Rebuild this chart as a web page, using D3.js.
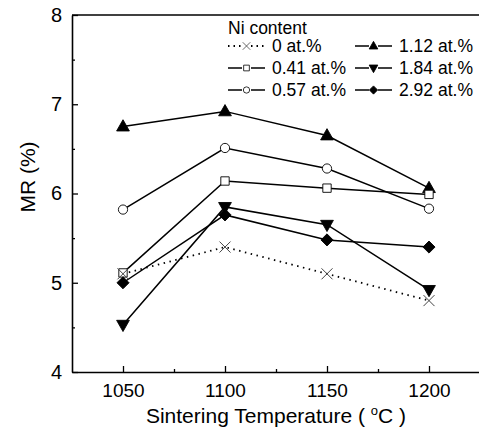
<!DOCTYPE html>
<html>
<head>
<meta charset="utf-8">
<script src="https://cdn.jsdelivr.net/npm/d3@7"></script>
<style>
  body { margin: 0; background: #fff; }
  text { font-family: "Liberation Sans", Arial, sans-serif; fill: #000; }
</style>
</head>
<body>
<div id="chart"></div>
<script>
// data
var temps = [1050, 1100, 1150, 1200];
var xTicks = [1050, 1100, 1150, 1200];
var yTicks = [4, 5, 6, 7, 8];
var seriesNames = ["0 at.%", "0.41 at.%", "0.57 at.%", "1.12 at.%", "1.84 at.%", "2.92 at.%"];
var mr0   = [5.10, 5.40, 5.10, 4.80];
var mr041 = [5.11, 6.14, 6.06, 5.99];
var mr057 = [5.82, 6.51, 6.28, 5.83];
var mr112 = [6.75, 6.92, 6.65, 6.06];
var mr184 = [4.53, 5.85, 5.65, 4.92];
var mr292 = [5.00, 5.76, 5.48, 5.40];

var W = 479, H = 438;
var margin = {top: 15, right: -1, bottom: 66, left: 72};
var width = W - margin.left - margin.right,
    height = H - margin.top - margin.bottom;

var svg = d3.select("#chart").append("svg")
    .attr("width", W).attr("height", H)
  .append("g")
    .attr("transform", "translate(" + margin.left + "," + margin.top + ")");

var x = d3.scaleLinear().domain([1025, 1225]).range([0, width]);
var y = d3.scaleLinear().domain([4, 8]).range([height, 0]);

// marker shapes
function shape(kind, s) {
  var p = d3.path();
  if (kind == "up") {
    p.moveTo(0, -s * 0.62); p.lineTo(s * 0.58, s * 0.4); p.lineTo(-s * 0.58, s * 0.4); p.closePath();
  } else if (kind == "down") {
    p.moveTo(0, s * 0.62); p.lineTo(s * 0.58, -s * 0.4); p.lineTo(-s * 0.58, -s * 0.4); p.closePath();
  } else if (kind == "diamond") {
    p.moveTo(0, -s * 0.55); p.lineTo(s * 0.55, 0); p.lineTo(0, s * 0.55); p.lineTo(-s * 0.55, 0); p.closePath();
  } else if (kind == "square") {
    p.rect(-s * 0.38, -s * 0.38, s * 0.76, s * 0.76);
  } else if (kind == "circle") {
    p.arc(0, 0, s * 0.42, 0, 2 * Math.PI); p.closePath();
  } else if (kind == "cross") {
    var h = s * 0.5;
    p.moveTo(-h, -h); p.lineTo(h, h); p.moveTo(h, -h); p.lineTo(-h, h);
  }
  return p.toString();
}

var series = [
  {name: seriesNames[3], vals: mr112, kind: "up",      fill: "#000", stroke: "#000", dash: null},
  {name: seriesNames[1], vals: mr041, kind: "square",  fill: "#fff", stroke: "#000", dash: null},
  {name: seriesNames[2], vals: mr057, kind: "circle",  fill: "#fff", stroke: "#000", dash: null},
  {name: seriesNames[4], vals: mr184, kind: "down",    fill: "#000", stroke: "#000", dash: null},
  {name: seriesNames[5], vals: mr292, kind: "diamond", fill: "#000", stroke: "#000", dash: null},
  {name: seriesNames[0], vals: mr0,   kind: "cross",   fill: "none", stroke: "#444", dash: "1.5,4.5"}
];

var line = d3.line()
  .x(function(d, i) { return x(temps[i]); })
  .y(function(d) { return y(d); });

// lines
series.forEach(function(s) {
  svg.append("path")
    .attr("d", line(s.vals))
    .attr("fill", "none")
    .attr("stroke", "#000")
    .attr("stroke-width", s.dash ? 1.8 : 1.5)
    .attr("stroke-dasharray", s.dash);
});

// markers
series.forEach(function(s) {
  svg.selectAll(null).data(s.vals).enter().append("path")
    .attr("transform", function(d, i) { return "translate(" + x(temps[i]) + "," + y(d) + ")"; })
    .attr("d", shape(s.kind, 11))
    .attr("fill", s.fill)
    .attr("stroke", s.stroke)
    .attr("stroke-width", s.kind == "cross" ? 1 : 0.9);
});

// axes with inward ticks
var axisColor = "#000";
svg.append("g")
    .attr("transform", "translate(0," + height + ")")
    .call(d3.axisBottom(x).tickValues(xTicks).tickFormat(d3.format("d"))
      .tickSizeInner(-6).tickSizeOuter(0).tickPadding(12))
    .call(function(g) {
      g.select(".domain").attr("stroke-width", 1.6);
      g.selectAll(".tick line").attr("stroke-width", 1.3);
      g.selectAll("text").attr("font-size", 19).attr("font-family", "Liberation Sans, Arial, sans-serif");
    });
svg.append("g")
    .attr("transform", "translate(0," + height + ")")
    .call(d3.axisBottom(x).tickValues([1075, 1125, 1175]).tickSizeInner(-3).tickSizeOuter(0).tickFormat(""))
    .call(function(g) { g.select(".domain").remove(); g.selectAll(".tick line").attr("stroke-width", 1.3); });

svg.append("g")
    .call(d3.axisLeft(y).tickValues(yTicks).tickFormat(d3.format("d"))
      .tickSizeInner(-6).tickSizeOuter(0).tickPadding(10))
    .call(function(g) {
      g.select(".domain").attr("stroke-width", 1.6);
      g.selectAll(".tick line").attr("stroke-width", 1.3);
      g.selectAll("text").attr("font-size", 20).attr("font-family", "Liberation Sans, Arial, sans-serif");
    });
svg.append("g")
    .call(d3.axisLeft(y).tickValues([4.5, 5.5, 6.5, 7.5]).tickSizeInner(-3).tickSizeOuter(0).tickFormat(""))
    .call(function(g) { g.select(".domain").remove(); g.selectAll(".tick line").attr("stroke-width", 1.3); });

// top and right frame
svg.append("line").attr("x1", 0).attr("x2", width).attr("y1", 0).attr("y2", 0)
  .attr("stroke", axisColor).attr("stroke-width", 1.6);
svg.append("line").attr("x1", width).attr("x2", width).attr("y1", 0).attr("y2", height)
  .attr("stroke", axisColor).attr("stroke-width", 1.6);

// axis titles
var xt = svg.append("text")
    .attr("x", width / 2)
    .attr("y", height + 51)
    .attr("font-size", 21)
    .style("text-anchor", "middle");
xt.append("tspan").text("Sintering Temperature ( ");
xt.append("tspan").attr("font-size", 13).attr("dy", -8).text("o");
xt.append("tspan").attr("dy", 8).text("C )");

svg.append("text")
    .attr("transform", "rotate(-90)")
    .attr("x", -(177 - margin.top))
    .attr("y", -37)
    .attr("font-size", 21)
    .style("text-anchor", "middle")
    .text("MR (%)");

// legend
var leg = svg.append("g").attr("transform", "translate(" + (228 - margin.left) + "," + (34 - margin.top) + ")");
leg.append("text").attr("x", 0).attr("y", 0).attr("font-size", 17.5).text("Ni content");

var legendOrder = [
  {s: series[5], col: 0, row: 0},
  {s: series[1], col: 0, row: 1},
  {s: series[2], col: 0, row: 2},
  {s: series[0], col: 1, row: 0},
  {s: series[3], col: 1, row: 1},
  {s: series[4], col: 1, row: 2}
];
legendOrder.forEach(function(e) {
  var g = leg.append("g").attr("transform", "translate(" + (e.col * 127) + "," + (18 + e.row * 22) + ")");
  [[0, 14], [23, 37]].forEach(function(seg) {
    g.append("line").attr("x1", seg[0]).attr("x2", seg[1]).attr("y1", -6).attr("y2", -6)
      .attr("stroke", "#000").attr("stroke-width", e.s.dash ? 1.8 : 1.5)
      .attr("stroke-dasharray", e.s.dash ? "1.5,4" : null);
  });
  g.append("path").attr("transform", "translate(18.5,-6)")
    .attr("d", shape(e.s.kind, 7.5))
    .attr("fill", e.s.fill)
    .attr("stroke", e.s.stroke).attr("stroke-width", 0.8);
  g.append("text").attr("x", 44).attr("y", 0).attr("font-size", 17.5).text(e.s.name);
});
</script>
</body>
</html>
